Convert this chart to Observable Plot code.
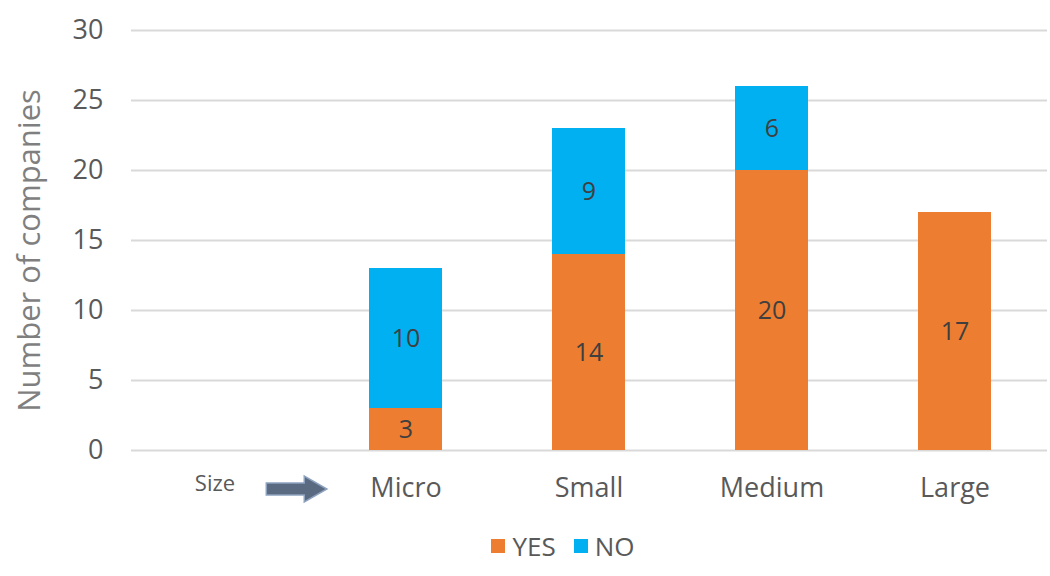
<!DOCTYPE html>
<html>
<head>
<meta charset="utf-8">
<script src="https://cdn.jsdelivr.net/npm/d3@7"></script>
<script src="https://cdn.jsdelivr.net/npm/@observablehq/plot@0.6"></script>
<style>
  html, body { margin: 0; padding: 0; background: #ffffff; }
  body { width: 1050px; height: 576px; overflow: hidden; font-family: "Open Sans", sans-serif; }
  #legend { display: flex; justify-content: center; align-items: center; gap: 0; padding-left: 76px;
            font-size: 26px; color: #595959; height: 56px; margin-top: -2px; }
  #legend .item { display: flex; align-items: center; margin: 0 9px; }
  #legend .sw { width: 14px; height: 14px; margin-right: 7px; }
</style>
</head>
<body>
<div id="chart"></div>
<div id="legend"></div>
<script>
const categories = ["Size", "Micro", "Small", "Medium", "Large"];
const seriesNames = ["YES", "NO"];
const yesValues = [0, 3, 14, 20, 17];
const noValues = [0, 10, 9, 6, 0];
const yTicks = [0, 5, 10, 15, 20, 25, 30];
const colors = ["#ED7D31", "#00B0F0"];

const data = [];
categories.forEach((c, i) => {
  if (yesValues[i] > 0) data.push({category: c, series: "YES", value: yesValues[i]});
  if (noValues[i] > 0) data.push({category: c, series: "NO", value: noValues[i]});
});

const W = 1050, H = 520, MT = 30, MB = 70, ML = 131, MR = 3;

const chart = Plot.plot({
  width: W,
  height: H,
  marginTop: MT,
  marginBottom: MB,
  marginLeft: ML,
  marginRight: MR,
  style: { fontFamily: "Open Sans, sans-serif", background: "transparent" },
  x: { domain: categories, paddingInner: 0.6, paddingOuter: 0.3, label: null },
  y: { domain: [0, 30], label: null },
  color: { domain: seriesNames, range: colors },
  marks: [
    Plot.gridY(yTicks, { stroke: "#d9d9d9", strokeOpacity: 1, strokeWidth: 2 }),
    Plot.axisY({ ticks: yTicks, tickSize: 0, tickPadding: 28, fontSize: 27, color: "#595959", label: null }),
    Plot.axisX({ tickSize: 0, tickPadding: 27, fontSize: 27, color: "#595959", label: null,
                 tickFormat: d => d === "Size" ? "" : d }),
    Plot.text(["Size"], { x: d => d, frameAnchor: "bottom", dy: 40, dx: -8, fontSize: 22, fill: "#595959", text: d => d }),
    Plot.barY(data, Plot.stackY({ x: "category", y: "value", fill: "series", order: seriesNames })),
    Plot.text(data, Plot.stackY({ x: "category", y: "value", z: "series", order: seriesNames, text: d => String(d.value),
                                   fontSize: 25, fill: "#3f3f3f" })),
    Plot.text(["Number of companies"], { text: d => d, frameAnchor: "left", textAnchor: "middle", dx: -101, dy: 10, rotate: -90, fontSize: 31, fill: "#7f7f7f" })
  ]
});
document.getElementById("chart").appendChild(chart);

// Arrow annotation next to "Size", positioned from the x scale
const xs = Plot.scale({ x: chart.scale("x") });
const bw = chart.scale("x").bandwidth;
const x0 = xs.apply("Size");
const x1 = x0 + bw * 1.1, x2 = x0 + bw * 1.93, xh = x0 + bw * 1.62;
const yc = H - MB + 39;
d3.select(chart).append("path")
  .attr("d", `M${x1},${yc - 6}L${xh},${yc - 6}L${xh},${yc - 13}L${x2},${yc}L${xh},${yc + 13}L${xh},${yc + 6}L${x1},${yc + 6}Z`)
  .attr("fill", "#5a6a80")
  .attr("stroke", "#8da2be")
  .attr("stroke-width", 1.5);

const legend = document.getElementById("legend");
seriesNames.forEach((s, i) => {
  const item = document.createElement("div");
  item.className = "item";
  const sw = document.createElement("div");
  sw.className = "sw";
  sw.style.background = colors[i];
  const t = document.createElement("span");
  t.textContent = s;
  item.appendChild(sw);
  item.appendChild(t);
  legend.appendChild(item);
});
</script>
</body>
</html>
